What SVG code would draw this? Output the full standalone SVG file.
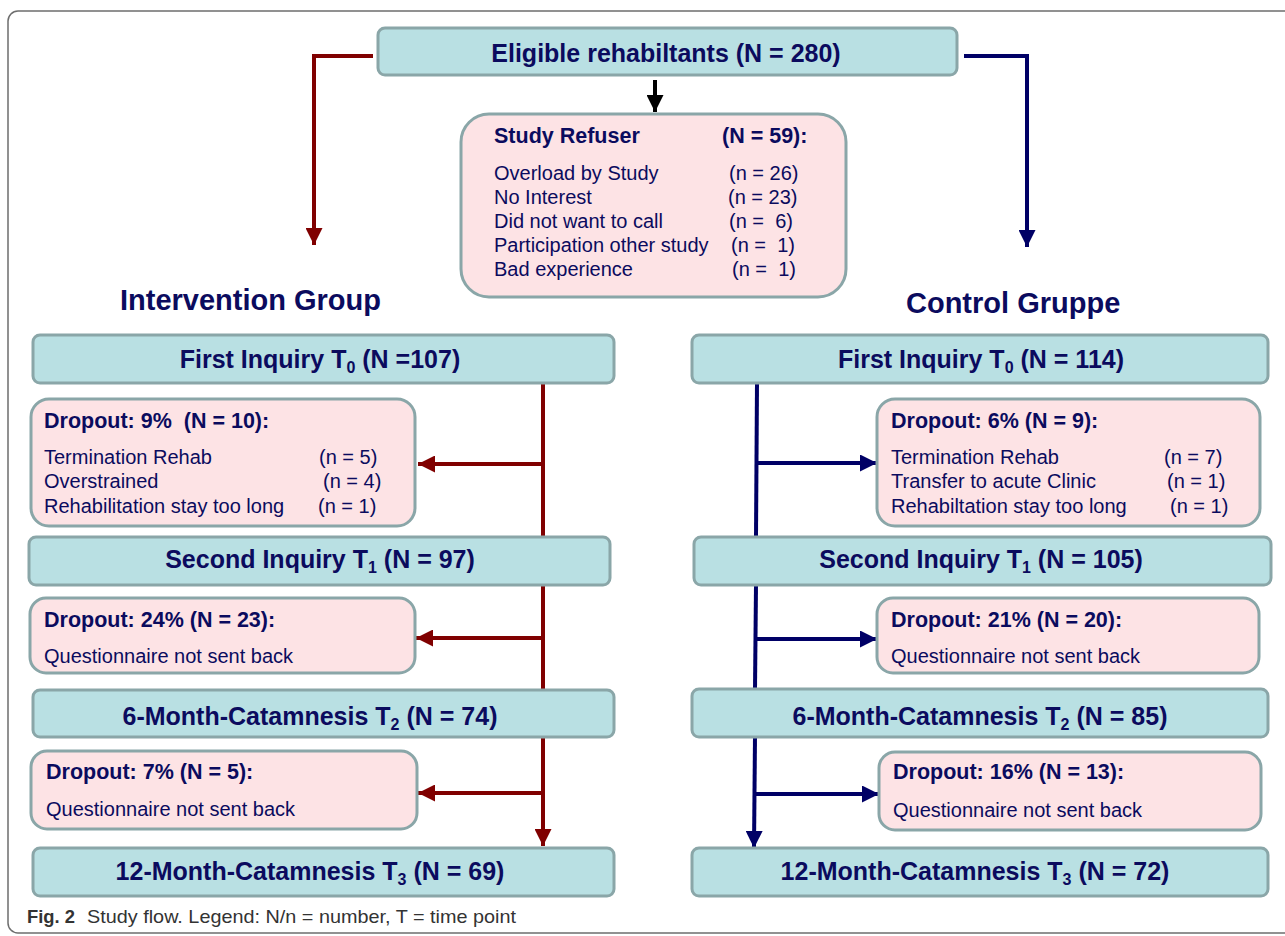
<svg xmlns="http://www.w3.org/2000/svg" width="1285" height="936" viewBox="0 0 1285 936">
<defs>
<style>
.frame{fill:#ffffff;stroke:#6e6e6e;stroke-width:1.5}
.tb{fill:#b9e0e3;stroke:#8aa6a8;stroke-width:3}
.pb{fill:#fde3e5;stroke:#8aa6a8;stroke-width:3}
.h{font-family:"Liberation Sans",Arial,sans-serif;font-weight:bold;font-size:25px;fill:#0b0b5e;text-anchor:middle}
.g{font-family:"Liberation Sans",Arial,sans-serif;font-weight:bold;font-size:29px;fill:#0b0b5e}
.t{font-family:"Liberation Sans",Arial,sans-serif;font-weight:bold;font-size:21.5px;fill:#0b0b5e;white-space:pre}
.r{font-family:"Liberation Sans",Arial,sans-serif;font-size:20px;fill:#0b0b5e;white-space:pre}
.sub{font-size:16px}
.red{fill:none;stroke:#800000;stroke-width:4}
.blue{fill:none;stroke:#000066;stroke-width:4}
.blk{fill:none;stroke:#000000;stroke-width:4}
.cap{font-family:"Liberation Sans",Arial,sans-serif;font-size:19px;fill:#333333}
</style>
<marker id="aR" markerUnits="userSpaceOnUse" markerWidth="17" markerHeight="17" refX="17" refY="8.5" orient="auto"><path d="M0,0 L17,8.5 L0,17 z" fill="#800000"/></marker>
<marker id="aB" markerUnits="userSpaceOnUse" markerWidth="17" markerHeight="17" refX="17" refY="8.5" orient="auto"><path d="M0,0 L17,8.5 L0,17 z" fill="#000066"/></marker>
<marker id="aK" markerUnits="userSpaceOnUse" markerWidth="17" markerHeight="17" refX="17" refY="8.5" orient="auto"><path d="M0,0 L17,8.5 L0,17 z" fill="#000000"/></marker>
</defs>
<rect class="frame" x="8" y="11" width="1300" height="922" rx="10"/>

<g id="connectors">
<path class="red" d="M373,56 H314 V245" marker-end="url(#aR)"/>
<path class="red" d="M543,383 V537"/>
<path class="red" d="M543,585 V690"/>
<path class="red" d="M543,737 V846" marker-end="url(#aR)"/>
<path class="red" d="M543,464 H418" marker-end="url(#aR)"/>
<path class="red" d="M543,638 H416" marker-end="url(#aR)"/>
<path class="red" d="M543,793 H418" marker-end="url(#aR)"/>
<path class="blue" d="M964,56 H1027 V247" marker-end="url(#aB)"/>
<path class="blue" d="M757,383 L756,537"/>
<path class="blue" d="M756,585 L755,689"/>
<path class="blue" d="M755,737 L754,848" marker-end="url(#aB)"/>
<path class="blue" d="M757,463 H877" marker-end="url(#aB)"/>
<path class="blue" d="M756,639 H877" marker-end="url(#aB)"/>
<path class="blue" d="M755,794 H879" marker-end="url(#aB)"/>
<path class="blk" d="M655,80 V112" marker-end="url(#aK)"/>
</g>

<g id="eligible">
<rect class="tb" x="378" y="28" width="579" height="47" rx="7"/>
<text class="h" x="666" y="62">Eligible rehabiltants (N = 280)</text>
</g>

<g id="refuser">
<rect class="pb" x="461" y="114" width="385" height="183" rx="28"/>
<text class="t" x="494" y="143">Study Refuser</text>
<text class="t" x="722" y="143">(N = 59):</text>
<text class="r" x="494" y="180">Overload by Study</text>
<text class="r" x="729" y="180">(n = 26)</text>
<text class="r" x="494" y="204">No Interest</text>
<text class="r" x="728" y="204">(n = 23)</text>
<text class="r" x="494" y="228">Did not want to call</text>
<text class="r" x="729" y="228">(n =  6)</text>
<text class="r" x="494" y="252">Participation other study</text>
<text class="r" x="731" y="252">(n =  1)</text>
<text class="r" x="494" y="276">Bad experience</text>
<text class="r" x="732" y="276">(n =  1)</text>
</g>

<g id="label-intervention"><text class="g" x="120" y="310">Intervention Group</text></g>
<g id="label-control"><text class="g" x="906" y="313">Control Gruppe</text></g>

<g id="ig-t0">
<rect class="tb" x="33" y="335" width="581" height="48" rx="7"/>
<text class="h" x="320" y="368">First Inquiry T<tspan class="sub" dy="5">0</tspan><tspan dy="-5"> (N =107)</tspan></text>
</g>
<g id="ig-drop1">
<rect class="pb" x="31" y="399" width="384" height="127" rx="18"/>
<text class="t" x="44" y="428">Dropout: 9%  (N = 10):</text>
<text class="r" x="44" y="464">Termination Rehab</text>
<text class="r" x="319" y="464">(n = 5)</text>
<text class="r" x="44" y="488">Overstrained</text>
<text class="r" x="323" y="488">(n = 4)</text>
<text class="r" x="44" y="513">Rehabilitation stay too long</text>
<text class="r" x="318" y="513">(n = 1)</text>
</g>
<g id="ig-t1">
<rect class="tb" x="29" y="537" width="581" height="48" rx="7"/>
<text class="h" x="320" y="568">Second Inquiry T<tspan class="sub" dy="5">1</tspan><tspan dy="-5"> (N = 97)</tspan></text>
</g>
<g id="ig-drop2">
<rect class="pb" x="30" y="598" width="385" height="75" rx="16"/>
<text class="t" x="44" y="627">Dropout: 24% (N = 23):</text>
<text class="r" x="44" y="663">Questionnaire not sent back</text>
</g>
<g id="ig-t2">
<rect class="tb" x="33" y="690" width="581" height="47" rx="7"/>
<text class="h" x="310" y="725">6-Month-Catamnesis T<tspan class="sub" dy="5">2</tspan><tspan dy="-5"> (N = 74)</tspan></text>
</g>
<g id="ig-drop3">
<rect class="pb" x="31" y="751" width="386" height="78" rx="16"/>
<text class="t" x="46" y="779">Dropout: 7% (N = 5):</text>
<text class="r" x="46" y="816">Questionnaire not sent back</text>
</g>
<g id="ig-t3">
<rect class="tb" x="33" y="848" width="581" height="48" rx="7"/>
<text class="h" x="310" y="880">12-Month-Catamnesis T<tspan class="sub" dy="5">3</tspan><tspan dy="-5"> (N = 69)</tspan></text>
</g>

<g id="cg-t0">
<rect class="tb" x="692" y="335" width="576" height="48" rx="7"/>
<text class="h" x="981" y="368">First Inquiry T<tspan class="sub" dy="5">0</tspan><tspan dy="-5"> (N = 114)</tspan></text>
</g>
<g id="cg-drop1">
<rect class="pb" x="877" y="399" width="383" height="127" rx="18"/>
<text class="t" x="891" y="428">Dropout: 6% (N = 9):</text>
<text class="r" x="891" y="464">Termination Rehab</text>
<text class="r" x="1164" y="464">(n = 7)</text>
<text class="r" x="891" y="488">Transfer to acute Clinic</text>
<text class="r" x="1167" y="488">(n = 1)</text>
<text class="r" x="891" y="513">Rehabiltation stay too long</text>
<text class="r" x="1170" y="513">(n = 1)</text>
</g>
<g id="cg-t1">
<rect class="tb" x="694" y="537" width="577" height="48" rx="7"/>
<text class="h" x="981" y="568">Second Inquiry T<tspan class="sub" dy="5">1</tspan><tspan dy="-5"> (N = 105)</tspan></text>
</g>
<g id="cg-drop2">
<rect class="pb" x="877" y="598" width="382" height="75" rx="16"/>
<text class="t" x="891" y="627">Dropout: 21% (N = 20):</text>
<text class="r" x="891" y="663">Questionnaire not sent back</text>
</g>
<g id="cg-t2">
<rect class="tb" x="692" y="689" width="576" height="48" rx="7"/>
<text class="h" x="980" y="725">6-Month-Catamnesis T<tspan class="sub" dy="5">2</tspan><tspan dy="-5"> (N = 85)</tspan></text>
</g>
<g id="cg-drop3">
<rect class="pb" x="879" y="752" width="382" height="78" rx="16"/>
<text class="t" x="893" y="779">Dropout: 16% (N = 13):</text>
<text class="r" x="893" y="817">Questionnaire not sent back</text>
</g>
<g id="cg-t3">
<rect class="tb" x="692" y="848" width="576" height="48" rx="7"/>
<text class="h" x="975" y="880">12-Month-Catamnesis T<tspan class="sub" dy="5">3</tspan><tspan dy="-5"> (N = 72)</tspan></text>
</g>

<g id="caption">
<text class="cap" x="27" y="923" font-weight="bold" fill="#222222" textLength="48" lengthAdjust="spacingAndGlyphs">Fig. 2</text>
<text class="cap" x="87" y="923" textLength="429" lengthAdjust="spacingAndGlyphs">Study flow. Legend: N/n = number, T = time point</text>
</g>
</svg>
